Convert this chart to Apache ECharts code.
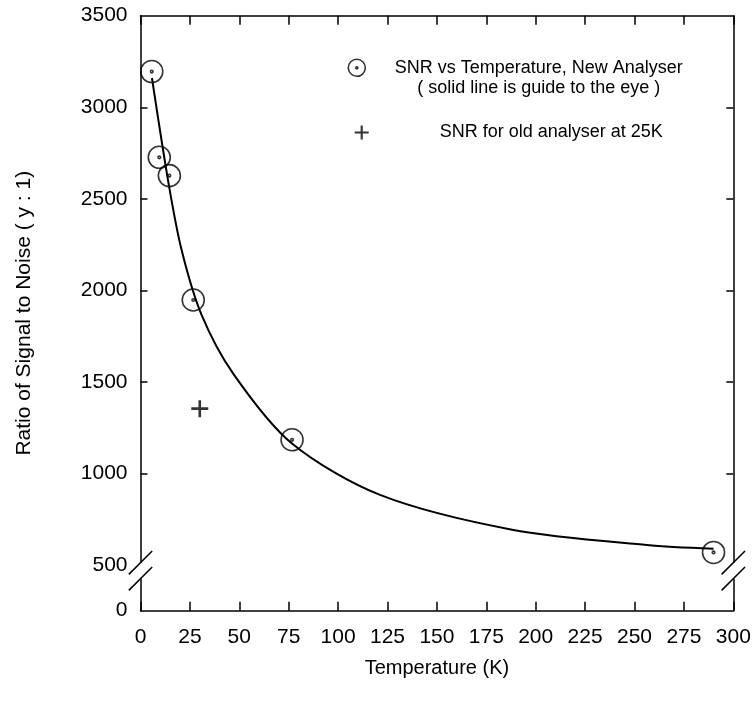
<!DOCTYPE html>
<html><head><meta charset="utf-8">
<script src="https://cdn.jsdelivr.net/npm/echarts@6/dist/echarts.min.js"></script>
<style>html,body{margin:0;padding:0;background:#fff}#c{width:755px;height:720px}</style>
</head><body><div id="c"></div>
<script>
// ---- data ----
const seriesNames = ['SNR vs Temperature, New Analyser', '( solid line is guide to the eye )', 'SNR for old analyser at 25K'];
const newTemps = [5.7, 9.5, 14.6, 26.7, 76.7, 290];
const newSNR = [3195, 2727, 2627, 1948, 1185, 570];
const guideTemps = [5.8, 14.2, 20.8, 30.8, 47, 76.5, 121.2, 188.7, 256.2, 290];
const guideSNR = [3160, 2585, 2221, 1870, 1545, 1166, 884, 693, 611, 590];
const oldTemps = [30];
const oldSNR = [1355];
const xTickLabels = ['0','25','50','75','100','125','150','175','200','225','250','275','300'];
const yTickLabels = ['0','500','1000','1500','2000','2500','3000','3500'];
const yTickValues = [252, 500, 1000, 1500, 2000, 2500, 3000, 3500]; // 252 = broken-axis bottom shown as "0"
const xTitle = 'Temperature (K)';
const yTitle = 'Ratio of Signal to Noise ( y : 1)';

// ---- styles ----
const FONT = 'Liberation Sans, Arial, sans-serif';
const ringPath = 'path://M12,1A11,11 0 1,1 11.99,1Z M12,10.7A1.3,1.3 0 1,1 11.99,10.7Z';
const plusPath = 'path://M0,7.2h17v2.6H0z M7.2,0h2.6v17H7.2z';
const ringStyle = {color: 'rgba(0,0,0,0)', borderColor: '#000', borderWidth: 1.6};

const chart = echarts.init(document.getElementById('c'), null, {renderer: 'canvas'});
const xMin = 0, xMax = 300, xInt = 25;
const yMin = yTickValues[0], yMax = yTickValues[yTickValues.length - 1];
const labelOf = v => yTickLabels[yTickValues.indexOf(v)];

const axisLine = {show: true, onZero: false, lineStyle: {color: '#000', width: 1.5}};
const option = {
  animation: false,
  backgroundColor: '#fff',
  textStyle: {fontFamily: FONT},
  grid: {left: 140.5, right: 21.7, top: 15.7, bottom: 109.3},
  xAxis: [
    {type: 'value', position: 'bottom', min: xMin, max: xMax, interval: xInt,
     axisLine, splitLine: {show: false},
     axisTick: {inside: true, length: 9, lineStyle: {color: '#000', width: 1.5}},
     axisLabel: {fontSize: 21, color: '#000', margin: 16, fontFamily: FONT,
       formatter: v => xTickLabels[Math.round((v - xMin) / xInt)]},
     name: xTitle, nameLocation: 'middle', nameGap: 48,
     nameTextStyle: {fontSize: 20, color: '#000', fontFamily: FONT}},
    {type: 'value', position: 'top', min: xMin, max: xMax, interval: xInt,
     axisLine, splitLine: {show: false},
     axisTick: {inside: true, length: 9, lineStyle: {color: '#000', width: 1.5}},
     axisLabel: {show: false}}
  ],
  yAxis: [
    {type: 'value', position: 'left', min: yMin, max: yMax,
     axisLine, splitLine: {show: false},
     axisTick: {inside: true, length: 7, customValues: yTickValues.slice(2, -1), lineStyle: {color: '#000', width: 1.5}},
     axisLabel: {fontSize: 21, color: '#000', margin: 13, fontFamily: FONT,
       customValues: yTickValues, formatter: v => labelOf(v)},
     name: yTitle, nameLocation: 'middle', nameGap: 106, nameRotate: 90,
     nameTextStyle: {fontSize: 21, color: '#000', fontFamily: FONT}},
    {type: 'value', position: 'right', min: yMin, max: yMax,
     axisLine, splitLine: {show: false},
     axisTick: {inside: true, length: 7, customValues: yTickValues.slice(2, -1), lineStyle: {color: '#000', width: 1.5}},
     axisLabel: {show: false}}
  ],
  legend: [
    {orient: 'vertical', left: 347.5, top: 58.5, padding: 0, itemWidth: 17, itemHeight: 17, itemGap: 2,
     selectedMode: false,
     data: [
       {name: seriesNames[0], icon: ringPath, itemStyle: ringStyle},
       {name: seriesNames[1], icon: 'rect', itemStyle: {color: 'rgba(0,0,0,0)', borderWidth: 0, opacity: 0}}
     ],
     formatter: n => '{t|' + n + '}',
     textStyle: {rich: {t: {width: 337, align: 'center', fontSize: 18, lineHeight: 20, color: '#000', fontFamily: FONT}}}},
    {orient: 'vertical', left: 354.7, top: 123.5, padding: 0, itemWidth: 14, itemHeight: 14,
     selectedMode: false,
     data: [{name: seriesNames[2], icon: plusPath, itemStyle: {color: '#000'}}],
     formatter: n => '{t|' + n + '}',
     textStyle: {rich: {t: {width: 355, align: 'center', fontSize: 18, lineHeight: 20, color: '#000', fontFamily: FONT}}}}
  ],
  series: [
    {name: seriesNames[1], type: 'line', smooth: 0.3, showSymbol: false, symbol: 'none',
     data: guideTemps.map((t, i) => [t, guideSNR[i]]),
     lineStyle: {color: '#000', width: 2}, itemStyle: {color: '#000'}, z: 2},
    {name: seriesNames[0], type: 'scatter', symbol: ringPath, symbolSize: 22,
     data: newTemps.map((t, i) => [t, newSNR[i]]),
     itemStyle: ringStyle, z: 3},
    {name: seriesNames[2], type: 'scatter', symbol: plusPath, symbolSize: 17,
     data: oldTemps.map((t, i) => [t, oldSNR[i]]),
     itemStyle: {color: '#000'}, z: 3}
  ]
};
chart.setOption(option);

// axis-break marks on both vertical axes
function drawBreaks() {
  const bottom = chart.convertToPixel({yAxisIndex: 0}, yMin);
  const xl = chart.convertToPixel({xAxisIndex: 0}, xMin);
  const xr = chart.convertToPixel({xAxisIndex: 0}, xMax);
  const c1 = bottom - 48, c2 = bottom - 32, h = 11.7;
  const els = [];
  [xl, xr].forEach(ax => {
    els.push({type: 'rect', z: 100, shape: {x: ax - 3, y: c1, width: 6, height: c2 - c1}, style: {fill: '#fff'}});
    [c1, c2].forEach(c => els.push({type: 'line', z: 101,
      shape: {x1: ax - h, y1: c + h, x2: ax + h, y2: c - h}, style: {stroke: '#000', lineWidth: 1.5}}));
  });
  chart.setOption({graphic: els});
}
drawBreaks();
</script></body></html>
